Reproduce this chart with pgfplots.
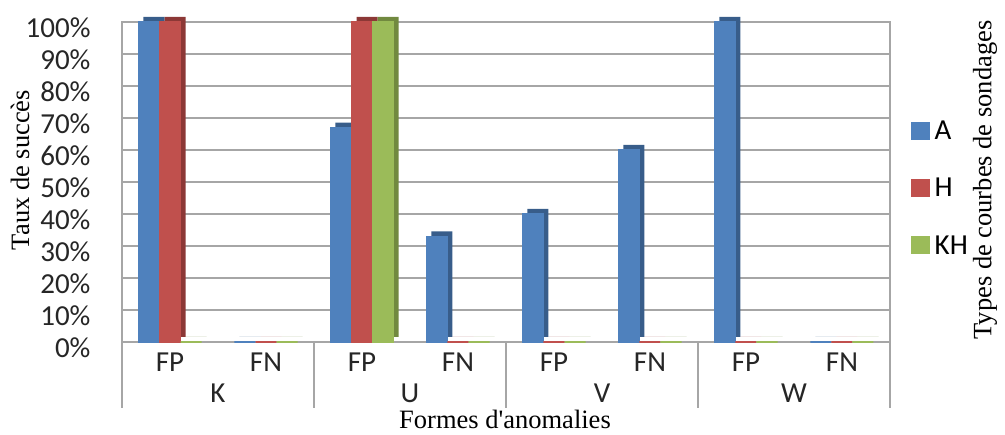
\documentclass[border=0pt]{standalone}
\usepackage{pgfplots}
\pgfplotsset{compat=1.18}
\usepackage{pgfplotstable}
\usepackage{fontspec}
\setmainfont{Liberation Serif}
\newfontfamily\calfont{Carlito}
\definecolor{cA}{HTML}{4F81BD}
\definecolor{cAd}{HTML}{385D8A}
\definecolor{cH}{HTML}{C0504D}
\definecolor{cHd}{HTML}{8C3836}
\definecolor{cK}{HTML}{9BBB59}
\definecolor{cKd}{HTML}{71893F}
\definecolor{gridc}{HTML}{A6A6A6}
\pgfplotstableread{
x A H KH
0 100 100 0
1 0 0 0
2 67 100 100
3 33 0 0
4 40 0 0
5 60 0 0
6 100 0 0
7 0 0 0
}\datatab
\begin{document}
\begin{tikzpicture}
\useasboundingbox (0,0) rectangle (1005pt,435pt);
\begin{axis}[
  at={(122pt,93pt)}, anchor=south west,
  scale only axis, width=768pt, height=320pt,
  xmin=-0.5, xmax=7.5, ymin=0, ymax=100,
  xtick={0,...,7},
  xticklabels={FP,FN,FP,FN,FP,FN,FP,FN},
  ytick={0,10,...,100},
  yticklabel={\pgfmathprintnumber{\tick}\%},
  /pgf/number format/assume math mode=true,
  major tick length=0pt,
  tick label style={font=\calfont\fontsize{29}{32}\selectfont, text=black!85},
  yticklabel style={xshift=-28pt, yshift=-6pt},
  xticklabel style={yshift=-7pt},
  ymajorgrids, grid style={gridc, line width=1.2pt},
  axis line style={gridc, line width=1.2pt},
  clip=false,
  ybar, bar width=21pt,
  legend style={at={(axis description cs:1,0.48)}, anchor=west, xshift=18pt,
    draw=none, fill=none, font=\calfont\fontsize{29}{32}\selectfont,
    row sep=33pt, cells={anchor=west},
    /tikz/every odd column/.append style={column sep=3pt}},
  legend image code/.code={\fill[#1] (0pt,-8pt) rectangle (17pt,9pt);},
]
% depth faces
\addplot[forget plot, fill=cAd, draw=none, bar shift=-21pt, xshift=5pt, yshift=5pt] table[x=x,y=A]{\datatab};
\addplot[forget plot, fill=cHd, draw=none, bar shift=0pt, xshift=5pt, yshift=5pt] table[x=x,y=H]{\datatab};
\addplot[forget plot, fill=cKd, draw=none, bar shift=21pt, xshift=5pt, yshift=5pt] table[x=x,y=KH]{\datatab};
% front faces
\addplot[fill=cA, draw=cA, line width=1.5pt, bar shift=-21pt] table[x=x,y=A]{\datatab};
\addplot[fill=cH, draw=cH, line width=1.5pt, bar shift=0pt] table[x=x,y=H]{\datatab};
\addplot[fill=cK, draw=cK, line width=1.5pt, bar shift=21pt] table[x=x,y=KH]{\datatab};
\legend{A,H,KH}
% category separators and group labels
\pgfplotsinvokeforeach{-0.5,1.5,3.5,5.5,7.5}{
  \draw[gridc, line width=1.5pt] (axis cs:#1,0) -- ([yshift=-66pt]axis cs:#1,0);
}
\node[font=\calfont\fontsize{29}{32}\selectfont, text=black!85] at ([yshift=-51pt]axis cs:0.5,0) {K};
\node[font=\calfont\fontsize{29}{32}\selectfont, text=black!85] at ([yshift=-51pt]axis cs:2.5,0) {U};
\node[font=\calfont\fontsize{29}{32}\selectfont, text=black!85] at ([yshift=-51pt]axis cs:4.5,0) {V};
\node[font=\calfont\fontsize{29}{32}\selectfont, text=black!85] at ([yshift=-51pt]axis cs:6.5,0) {W};
\end{axis}
\node[font=\fontsize{26.5}{30}\selectfont, anchor=base, inner sep=0pt] at (505pt,6pt) {Formes d\textquotesingle anomalies};
\node[font=\fontsize{26.5}{30}\selectfont, rotate=90] at (20pt,265pt) {Taux de succès};
\node[font=\fontsize{26.5}{30}\selectfont, rotate=90] at (985pt,255pt) {Types de courbes de sondages};
\end{tikzpicture}
\end{document}
